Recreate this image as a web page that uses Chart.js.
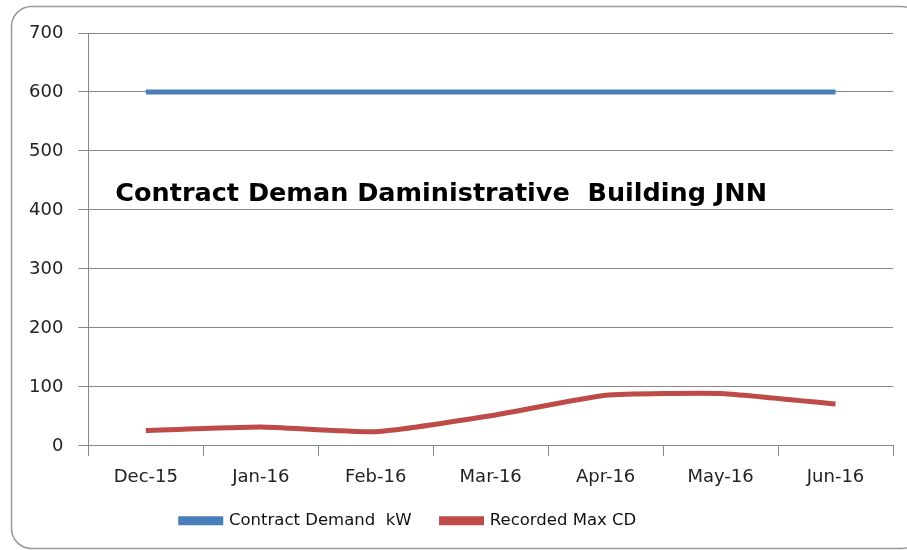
<!DOCTYPE html>
<html>
<head>
<meta charset="utf-8">
<script src="https://cdn.jsdelivr.net/npm/chart.js@4"></script>
<style>
  html, body { margin: 0; padding: 0; background: #fff; }
  #wrap { position: relative; width: 907px; height: 550px; }
</style>
</head>
<body>
<div id="wrap"><canvas id="demandChart"></canvas></div>
<script>
const months = ['Dec-15', 'Jan-16', 'Feb-16', 'Mar-16', 'Apr-16', 'May-16', 'Jun-16'];
const contractDemand = [600, 600, 600, 600, 600, 600, 600];
const recordedMaxCD = [26, 32, 24, 51, 86, 89, 71];
const yTicks = [0, 100, 200, 300, 400, 500, 600, 700];
const chartTitle = 'Contract Deman Daministrative  Building JNN';

// rounded frame around the chart object (right side runs off the picture)
const framePlugin = {
  id: 'frame',
  beforeDraw(chart) {
    const ctx = chart.ctx;
    ctx.save();
    ctx.fillStyle = '#fff';
    ctx.fillRect(0, 0, chart.width, chart.height);
    ctx.strokeStyle = '#999';
    ctx.lineWidth = 1.5;
    ctx.beginPath();
    ctx.roundRect(11.5, 6.5, 910, 542, 20);
    ctx.stroke();
    ctx.restore();
  }
};

// legend in the reference sits left of centre and a bit higher
const legendShift = {
  id: 'legendShift',
  afterLayout(chart) {
    const lg = chart.legend;
    lg.left -= 45;
    lg.right -= 45;
    lg.top -= 17;
    lg.bottom -= 17;
  }
};

// title sits inside the plot area
const innerTitle = {
  id: 'innerTitle',
  afterDatasetsDraw(chart) {
    const ctx = chart.ctx;
    const area = chart.chartArea;
    const y = chart.scales.y.getPixelForValue(400);
    ctx.save();
    ctx.font = 'bold 25.5px "DejaVu Sans", sans-serif';
    ctx.fillStyle = '#000';
    ctx.textBaseline = 'alphabetic';
    ctx.fillText(chartTitle, area.left + 27, y - 9);
    ctx.restore();
  }
};

new Chart(document.getElementById('demandChart'), {
  type: 'line',
  data: {
    labels: months,
    datasets: [
      {
        label: 'Contract Demand  kW',
        data: contractDemand,
        borderColor: '#4a7ebb',
        backgroundColor: '#4a7ebb',
        borderWidth: 5,
        pointRadius: 0,
        tension: 0
      },
      {
        label: 'Recorded Max CD',
        data: recordedMaxCD,
        borderColor: '#be4b48',
        backgroundColor: '#be4b48',
        borderWidth: 5,
        pointRadius: 0,
        tension: 0.15
      }
    ]
  },
  options: {
    responsive: true,
    maintainAspectRatio: false,
    animation: false,
    layout: { padding: { left: 14, right: 14, top: 33, bottom: -6 } },
    plugins: {
      tooltip: { enabled: false },
      legend: {
        position: 'bottom',
        labels: {
          boxWidth: 40,
          boxHeight: 4,
          padding: 30,
          color: '#111',
          font: { family: '"DejaVu Sans", sans-serif', size: 16.5 }
        }
      }
    },
    scales: {
      x: {
        offset: true,
        border: { color: '#888', width: 1 },
        grid: {
          offset: true,
          drawOnChartArea: false,
          drawTicks: true,
          tickLength: 10,
          color: '#888'
        },
        ticks: {
          padding: 11,
          color: '#222',
          font: { family: '"DejaVu Sans", sans-serif', size: 18 }
        }
      },
      y: {
        min: 0,
        max: 700,
        afterBuildTicks(axis) {
          axis.ticks = yTicks.map(v => ({ value: v }));
        },
        border: { color: '#888', width: 1 },
        grid: { color: '#888', tickLength: 10 },
        ticks: {
          padding: 15,
          color: '#222',
          font: { family: '"DejaVu Sans", sans-serif', size: 18 }
        }
      }
    }
  },
  plugins: [framePlugin, legendShift, innerTitle]
});
</script>
</body>
</html>
